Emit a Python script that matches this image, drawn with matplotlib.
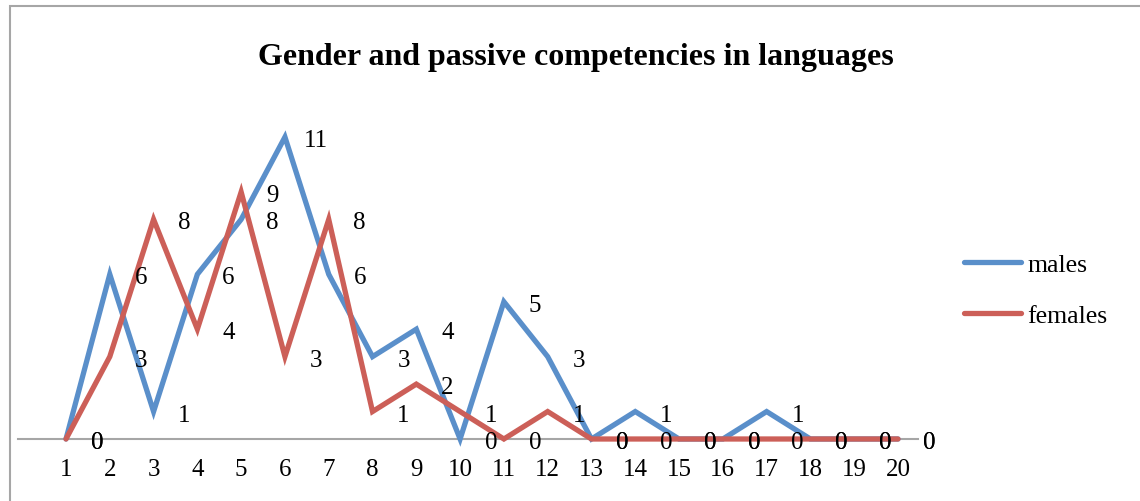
import matplotlib.pyplot as plt
from matplotlib.patches import Rectangle

categories = list(range(1, 21))
males = [0, 6, 1, 6, 8, 11, 6, 3, 4, 0, 5, 3, 0, 1, 0, 0, 1, 0, 0, 0]
females = [0, 3, 8, 4, 9, 3, 8, 1, 2, 1, 0, 1, 0, 0, 0, 0, 0, 0, 0, 0]
series_names = ['males', 'females']
colors = ['#5a8fca', '#cc5f58']

plt.rcParams['font.family'] = ['Liberation Serif', 'DejaVu Serif']

fig = plt.figure(figsize=(11.4, 5.02), dpi=100)
ax = fig.add_axes([18 / 1140, 62 / 502, 900 / 1140, 340 / 502])

for vals, name, col in zip([males, females], series_names, colors):
    ax.plot(categories, vals, color=col, lw=3.8, label=name,
            solid_capstyle='round', solid_joinstyle='miter', clip_on=False, zorder=3)
    for x, v in zip(categories, vals):
        ax.annotate(str(v), (x, v), xytext=(31, -3), textcoords='offset pixels',
                    ha='center', va='center', fontsize=18, zorder=4)

ax.set_xlim(1 - 48 / 43.79, 20 + 20 / 43.79)
ax.set_ylim(0, 340 / 27.45)
ax.set_xticks(categories)
ax.set_xticklabels([str(c) for c in categories], fontsize=18)
ax.set_yticks([])
ax.tick_params(axis='x', length=0, pad=14)
for s in ['top', 'right', 'left']:
    ax.spines[s].set_visible(False)
ax.spines['bottom'].set_color('#a6a6a6')
ax.spines['bottom'].set_linewidth(1.5)
ax.patch.set_alpha(0)

fig.text(576 / 1140, 1 - 57 / 502, 'Gender and passive competencies in languages',
         ha='center', va='center', fontsize=23, fontweight='bold')

ax.legend(loc='center left', bbox_to_anchor=(941 / 1140, 1 - 291 / 502),
          bbox_transform=fig.transFigure, frameon=False, fontsize=18.5,
          handlelength=2.2, handletextpad=0.25, labelspacing=1.12)

fig.patches.append(Rectangle((10 / 1140, -0.1), 1.2, 1.1 - 7 / 502,
                             transform=fig.transFigure, fill=False,
                             edgecolor='#a6a6a6', lw=1.5))

fig.savefig('out.png', dpi=100)
